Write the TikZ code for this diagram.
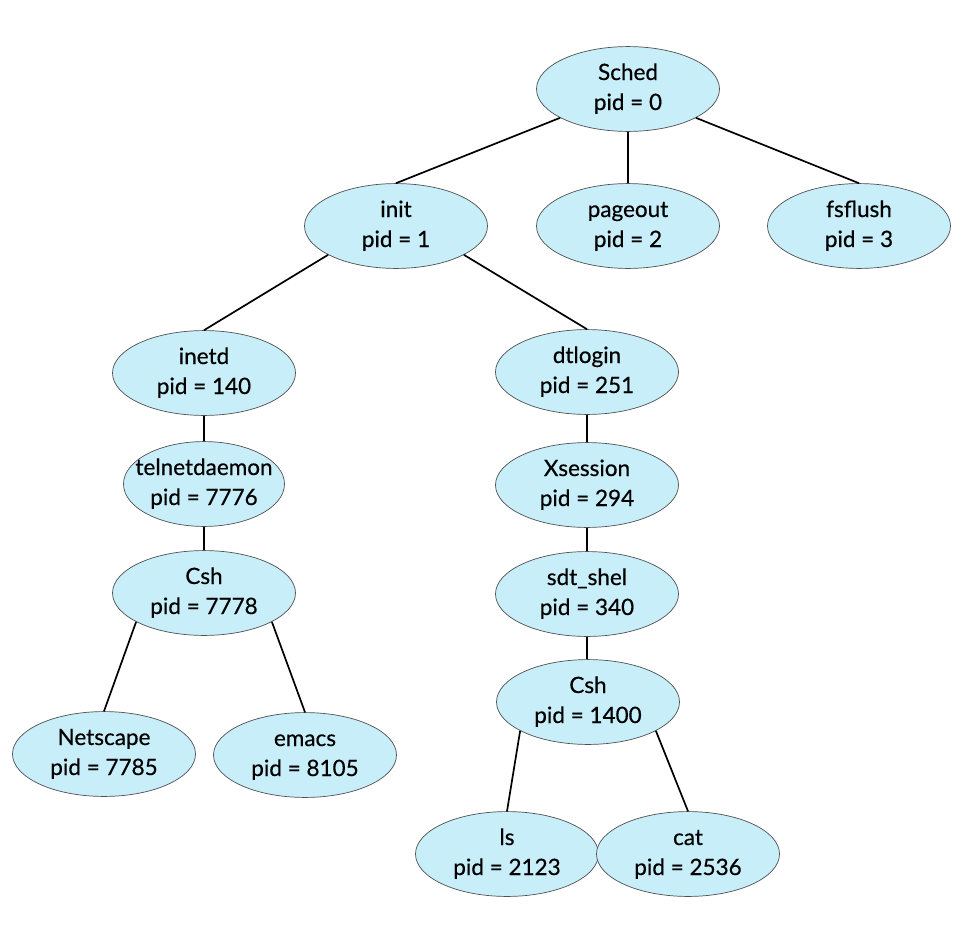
\documentclass[tikz,border=0pt]{standalone}
\usepackage{fontspec}
\setmainfont{Lato}
\newfontfamily\procfont{Lato}[FakeBold=0.5]
\usetikzlibrary{shapes.geometric}
\definecolor{procfill}{RGB}{200,238,249}
\definecolor{procline}{RGB}{80,80,80}
\newcommand{\proclabel}[2]{\makebox[0pt]{\begin{tabular}{@{}c@{}}#1\\pid = #2\end{tabular}}}
\begin{document}
\begin{tikzpicture}[x=1pt,y=-1pt,
  proc/.style={ellipse, draw=procline, line width=0.7pt, fill=procfill,
    minimum width=183pt, minimum height=80pt, inner sep=0pt,
    font=\procfont\fontsize{22.5}{30}\selectfont},
  link/.style={line width=1.7pt, black}]
\useasboundingbox (0,0) rectangle (974,926);
\node[proc, minimum height=75pt] (sched) at (628,89) {\proclabel{Sched}{0}};
\node[proc] (init) at (396,226) {\proclabel{init}{1}};
\node[proc] (pageout) at (628,226) {\proclabel{pageout}{2}};
\node[proc] (fsflush) at (859,226) {\proclabel{fsflush}{3}};
\node[proc] (inetd) at (204,373) {\proclabel{inetd}{140}};
\node[proc] (dtlogin) at (587,372) {\proclabel{dtlogin}{251}};
\node[proc, minimum width=161pt, minimum height=75pt] (telnet) at (204,484) {\proclabel{telnetdaemon}{7776}};
\node[proc] (xsession) at (587,485) {\proclabel{Xsession}{294}};
\node[proc] (csha) at (204,593) {\proclabel{Csh}{7778}};
\node[proc] (sdt) at (587,594) {\proclabel{sdt\_shel}{340}};
\node[proc] (cshb) at (588,702) {\proclabel{Csh}{1400}};
\node[proc] (netscape) at (104,754) {\proclabel{Netscape}{7785}};
\node[proc] (emacs) at (305,755) {\proclabel{emacs}{8105}};
\node[proc] (ls) at (507,854) {\proclabel{ls}{2123}};
\node[proc] (cat) at (688,854) {\proclabel{cat}{2536}};
\draw[link] (sched.203) -- (init.north);
\draw[link] (sched.south) -- (pageout.north);
\draw[link] (sched.337) -- (fsflush.north);
\draw[link] (init.203) -- (inetd.north);
\draw[link] (init.337) -- (dtlogin.north);
\draw[link] (inetd.south) -- (telnet.north);
\draw[link] (telnet.south) -- (csha.north);
\draw[link] (csha.203) -- (netscape.north);
\draw[link] (csha.337) -- (emacs.north);
\draw[link] (dtlogin.south) -- (xsession.north);
\draw[link] (xsession.south) -- (sdt.north);
\draw[link] (sdt.south) -- (sdt.south |- cshb.north);
\draw[link] (cshb.203) -- (ls.north);
\draw[link] (cshb.337) -- (cat.north);
\end{tikzpicture}
\end{document}
